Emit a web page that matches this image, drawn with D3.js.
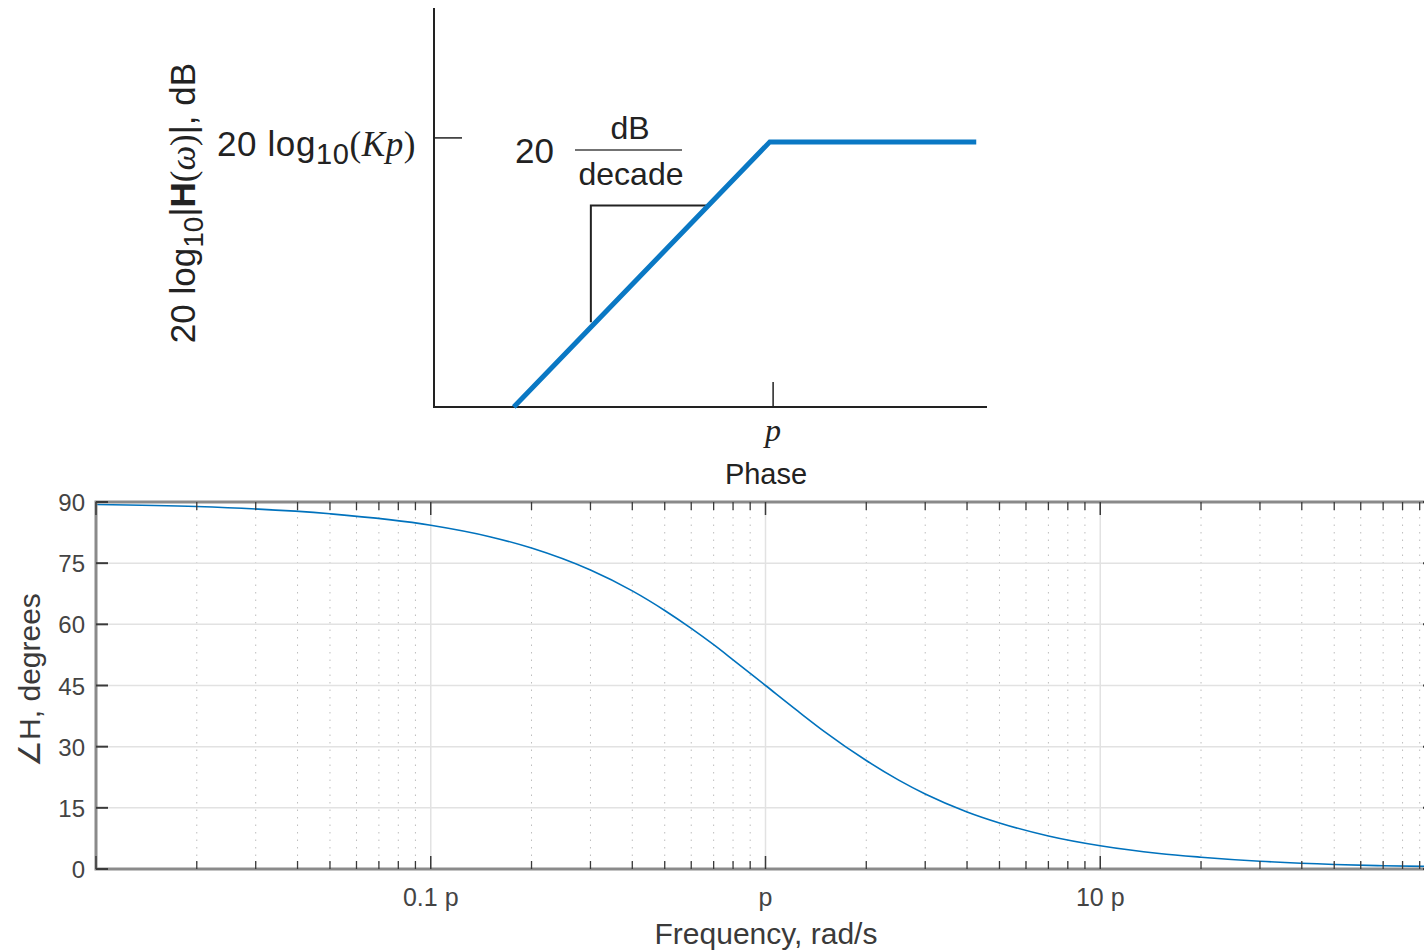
<!DOCTYPE html>
<html>
<head>
<meta charset="utf-8">
<script src="https://cdn.jsdelivr.net/npm/d3@7"></script>
<style>
  body { margin: 0; background: #fff; }
  svg { display: block; }
  text { font-family: "Liberation Sans", Arial, sans-serif; }
</style>
</head>
<body>
<script>
// magnitude asymptote (frequency in units of p, level in dB relative to 20log10(Kp))
const magFreq = [0.1, 1, 6.4];
const magDb = [-20, 0, 0];
// slope triangle
const triFreq = [0.2, 0.2, 0.58];
const triDb = [-13.6, -4.8, -4.8];

// phase curve (frequency in units of p, degrees)
const phaseFreq = [0.01, 0.02, 0.05, 0.1, 0.15, 0.2, 0.3, 0.4, 0.5, 0.6, 0.7, 0.8, 1, 1.25, 1.5, 2, 2.5, 3, 4, 5, 7, 10, 15, 20, 30, 50, 70, 100];
const phaseDeg = [89.4, 88.9, 87.1, 84.3, 81.5, 78.7, 73.3, 68.2, 63.4, 59.0, 55.0, 51.3, 45.0, 38.7, 33.7, 26.6, 21.8, 18.4, 14.0, 11.3, 8.1, 5.7, 3.8, 2.9, 1.9, 1.1, 0.8, 0.6];

const yTicks = [0, 15, 30, 45, 60, 75, 90];
const xMajor = [0.01, 0.1, 1, 10, 100];
const xLabels = ["", "0.1 p", "p", "10 p", ""];

const W = 1424, H = 951;
const blue = "#0072bd";

const svg = d3.select("body").append("svg")
  .attr("width", W)
  .attr("height", H);

// ---------- top: magnitude sketch ----------
const xm = d3.scaleLog().domain([0.0488, 7.05]).range([434, 987]);
const ym = d3.scaleLinear().domain([-20, 10.1]).range([407, 8]);

const gMag = svg.append("g");

// axes
gMag.append("line")
  .attr("x1", xm(0.0488)).attr("x2", xm(0.0488))
  .attr("y1", ym(10.1)).attr("y2", ym(-20))
  .attr("stroke", "#222").attr("stroke-width", 2);
gMag.append("line")
  .attr("x1", xm(0.0488) - 1).attr("x2", xm(7.05))
  .attr("y1", ym(-20)).attr("y2", ym(-20))
  .attr("stroke", "#222").attr("stroke-width", 2);

// ticks
gMag.append("line")
  .attr("x1", xm(0.0488)).attr("x2", xm(0.0488) + 28)
  .attr("y1", ym(0.3)).attr("y2", ym(0.3))
  .attr("stroke", "#222").attr("stroke-width", 1.5);
gMag.append("line")
  .attr("x1", xm(1.03)).attr("x2", xm(1.03))
  .attr("y1", ym(-20)).attr("y2", ym(-20) - 25)
  .attr("stroke", "#222").attr("stroke-width", 1.5);

// triangle
gMag.append("path")
  .datum(d3.zip(triFreq, triDb))
  .attr("d", d3.line().x(d => xm(d[0])).y(d => ym(d[1])))
  .attr("fill", "none")
  .attr("stroke", "#222")
  .attr("stroke-width", 2);

// asymptote
gMag.append("path")
  .datum(d3.zip(magFreq, magDb))
  .attr("d", d3.line().x(d => xm(d[0])).y(d => ym(d[1])))
  .attr("fill", "none")
  .attr("stroke", "#0a78c4")
  .attr("stroke-width", 5);

// labels
const serif = "'Liberation Serif', 'Times New Roman', serif";
const kp = gMag.append("text")
  .attr("x", 416).attr("y", 156)
  .attr("text-anchor", "end")
  .attr("font-size", 35)
  .attr("letter-spacing", 0.6)
  .attr("fill", "#222");
kp.append("tspan").text("20 log");
kp.append("tspan").attr("font-size", 29).attr("dy", 8).text("10");
kp.append("tspan").attr("dy", -8).style("font-family", serif).text("(");
kp.append("tspan").style("font-family", serif).attr("font-style", "italic").text("Kp");
kp.append("tspan").style("font-family", serif).text(")");

const yl = gMag.append("text")
  .attr("transform", "translate(195,203) rotate(-90)")
  .attr("text-anchor", "middle")
  .attr("font-size", 35)
  .attr("fill", "#222");
yl.append("tspan").text("20 log");
yl.append("tspan").attr("font-size", 28).attr("dy", 8).text("10");
yl.append("tspan").attr("dy", -8).text("|");
yl.append("tspan").attr("font-weight", "bold").text("H");
yl.append("tspan").style("font-family", serif).text("(");
yl.append("tspan").style("font-family", serif).attr("font-style", "italic").text("ω");
yl.append("tspan").style("font-family", serif).text(")");
yl.append("tspan").text("|, dB");

gMag.append("text")
  .attr("x", 515).attr("y", 163)
  .attr("font-size", 35).attr("fill", "#222")
  .text("20");
gMag.append("text")
  .attr("x", 630).attr("y", 139)
  .attr("text-anchor", "middle")
  .attr("font-size", 32).attr("fill", "#222")
  .text("dB");
gMag.append("line")
  .attr("x1", 575).attr("x2", 682)
  .attr("y1", 150).attr("y2", 150)
  .attr("stroke", "#444").attr("stroke-width", 1.5);
gMag.append("text")
  .attr("x", 631).attr("y", 185)
  .attr("text-anchor", "middle")
  .attr("font-size", 32).attr("fill", "#222")
  .text("decade");

gMag.append("text")
  .attr("x", xm(1.03)).attr("y", 441)
  .attr("text-anchor", "middle")
  .attr("font-size", 32)
  .attr("font-style", "italic")
  .style("font-family", serif)
  .attr("fill", "#222")
  .text("p");

// ---------- bottom: phase plot ----------
const x = d3.scaleLog().domain([0.01, 100]).range([96, 1435]);
const y = d3.scaleLinear().domain([0, 90]).range([869, 502]);

const gPh = svg.append("g");

const minor = [];
for (let e = -2; e < 2; e++) {
  for (let k = 2; k <= 9; k++) minor.push(k * Math.pow(10, e));
}

// minor dotted grid
gPh.selectAll(".minorGrid")
  .data(minor)
  .join("line")
  .attr("class", "minorGrid")
  .attr("x1", d => x(d)).attr("x2", d => x(d))
  .attr("y1", y(90)).attr("y2", y(0))
  .attr("stroke", "#bdbdbd")
  .attr("stroke-width", 1)
  .attr("stroke-dasharray", "1.5,6");

// major grids
gPh.selectAll(".vGrid")
  .data(xMajor.slice(1, 4))
  .join("line")
  .attr("class", "vGrid")
  .attr("x1", d => x(d)).attr("x2", d => x(d))
  .attr("y1", y(90)).attr("y2", y(0))
  .attr("stroke", "#e2e2e2")
  .attr("stroke-width", 1.5);
gPh.selectAll(".hGrid")
  .data(yTicks.slice(1, 6))
  .join("line")
  .attr("class", "hGrid")
  .attr("x1", x(0.01)).attr("x2", x(100))
  .attr("y1", d => y(d)).attr("y2", d => y(d))
  .attr("stroke", "#e2e2e2")
  .attr("stroke-width", 1.5);

// curve
gPh.append("path")
  .datum(d3.zip(phaseFreq, phaseDeg))
  .attr("d", d3.line()
    .curve(d3.curveMonotoneX)
    .x(d => x(d[0]))
    .y(d => y(d[1])))
  .attr("fill", "none")
  .attr("stroke", blue)
  .attr("stroke-width", 1.6);

// box
gPh.append("rect")
  .attr("x", x(0.01)).attr("y", y(90))
  .attr("width", x(100) - x(0.01))
  .attr("height", y(0) - y(90))
  .attr("fill", "none")
  .attr("stroke", "#8a8a8a")
  .attr("stroke-width", 3);

// ticks on top and bottom (inward)
const tickCol = "#3a3a3a";
[y(0), y(90)].forEach((yy, i) => {
  const dir = i === 0 ? -1 : 1;
  gPh.selectAll(null)
    .data(minor)
    .join("line")
    .attr("x1", d => x(d)).attr("x2", d => x(d))
    .attr("y1", yy).attr("y2", yy + dir * 8)
    .attr("stroke", tickCol).attr("stroke-width", 1.3);
  gPh.selectAll(null)
    .data(xMajor)
    .join("line")
    .attr("x1", d => x(d)).attr("x2", d => x(d))
    .attr("y1", yy).attr("y2", yy + dir * 13)
    .attr("stroke", tickCol).attr("stroke-width", 1.5);
});
[x(0.01), x(100)].forEach((xx, i) => {
  const dir = i === 0 ? 1 : -1;
  gPh.selectAll(null)
    .data(yTicks)
    .join("line")
    .attr("x1", xx).attr("x2", xx + dir * 12)
    .attr("y1", d => y(d)).attr("y2", d => y(d))
    .attr("stroke", tickCol).attr("stroke-width", 2);
});

// tick labels
gPh.selectAll(".yLab")
  .data(yTicks)
  .join("text")
  .attr("class", "yLab")
  .attr("x", 85)
  .attr("y", d => y(d) + 9)
  .attr("text-anchor", "end")
  .attr("font-size", 24)
  .attr("fill", "#444")
  .text(d => d);

gPh.selectAll(".xLab")
  .data(xMajor.map((v, i) => [v, xLabels[i]]).filter(d => d[1]))
  .join("text")
  .attr("class", "xLab")
  .attr("x", d => x(d[0]))
  .attr("y", 906)
  .attr("text-anchor", "middle")
  .attr("font-size", 25)
  .attr("fill", "#444")
  .text(d => d[1]);

// titles
gPh.append("text")
  .attr("x", 766).attr("y", 484)
  .attr("text-anchor", "middle")
  .attr("font-size", 29)
  .attr("fill", "#222")
  .text("Phase");
gPh.append("text")
  .attr("x", 766).attr("y", 944)
  .attr("text-anchor", "middle")
  .attr("font-size", 30)
  .attr("fill", "#3a3a3a")
  .text("Frequency, rad/s");
gPh.append("text")
  .attr("transform", "translate(40,680) rotate(-90)")
  .attr("text-anchor", "middle")
  .attr("font-size", 30)
  .attr("fill", "#3a3a3a")
  .text("∠H, degrees");
</script>
</body>
</html>
